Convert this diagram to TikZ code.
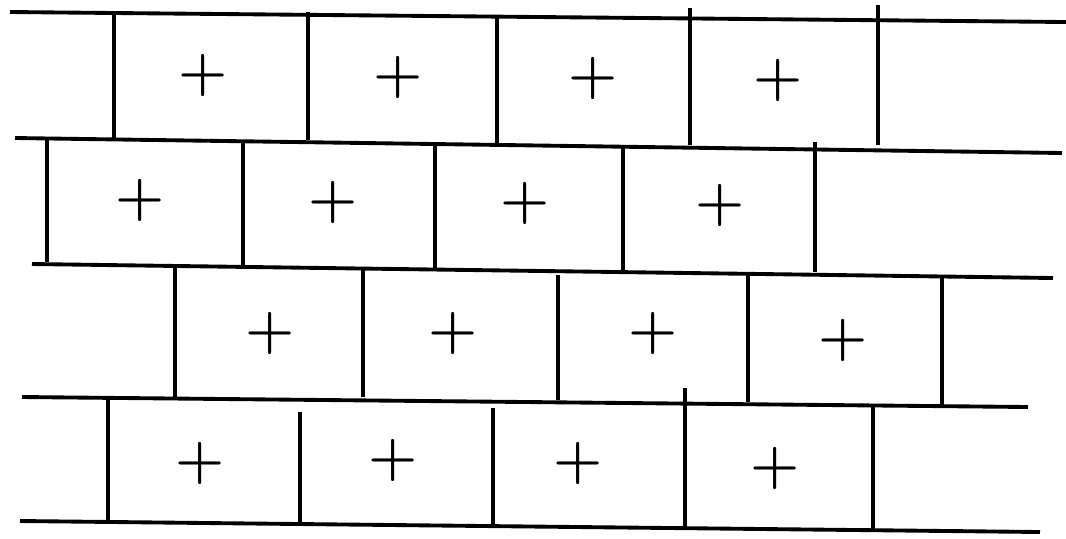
\documentclass[tikz,border=0pt]{standalone}
\usepackage{tikz}

\tikzset{
  joint/.style={line width=1.1pt},
  cross/.style={inner sep=0pt, font=\fontsize{16}{16}\selectfont\bfseries}
}

\begin{document}
\begin{tikzpicture}[x=0.1mm,y=-0.1mm]

% Page frame, in pixels of the sketch
\useasboundingbox (0,0) rectangle (1066,538);

% Bed joints (the courses are drawn a little out of level)
\draw[joint] (10,12)  -- (1066,22);
\draw[joint] (15,138) -- (1062,153);
\draw[joint] (32,264) -- (1053,278);
\draw[joint] (22,397) -- (1028,407);
\draw[joint] (20,521) -- (1040,532);

% Head joints, first course
\foreach \x/\ya/\yb in {114/12/138, 308/12/140, 497/15/143, 690/8/145, 878/5/145}
    \draw[joint] (\x,\ya) -- (\x,\yb);

% Head joints, second course
\foreach \x/\ya/\yb in {47/140/262, 243/140/265, 435/143/268, 623/145/270, 815/142/272}
    \draw[joint] (\x,\ya) -- (\x,\yb);

% Head joints, third course
\foreach \x/\ya/\yb in {175/265/397, 363/270/397, 558/275/400, 748/275/402, 942/278/405}
    \draw[joint] (\x,\ya) -- (\x,\yb);

% Head joints, fourth course
\foreach \x/\ya/\yb in {108/397/522, 300/412/522, 493/408/527, 685/388/527, 873/405/530}
    \draw[joint] (\x,\ya) -- (\x,\yb);

% Brick centres
\node[cross] (c11) at (203,75)  {+};
\node[cross] (c12) at (398,77)  {+};
\node[cross] (c13) at (593,78)  {+};
\node[cross] (c14) at (778,80)  {+};

\node[cross] (c21) at (140,200) {+};
\node[cross] (c22) at (333,202) {+};
\node[cross] (c23) at (525,203) {+};
\node[cross] (c24) at (720,205) {+};

\node[cross] (c31) at (270,333) {+};
\node[cross] (c32) at (453,333) {+};
\node[cross] (c33) at (653,333) {+};
\node[cross] (c34) at (843,340) {+};

\node[cross] (c41) at (200,463) {+};
\node[cross] (c42) at (393,460) {+};
\node[cross] (c43) at (578,463) {+};
\node[cross] (c44) at (775,468) {+};

\end{tikzpicture}
\end{document}
